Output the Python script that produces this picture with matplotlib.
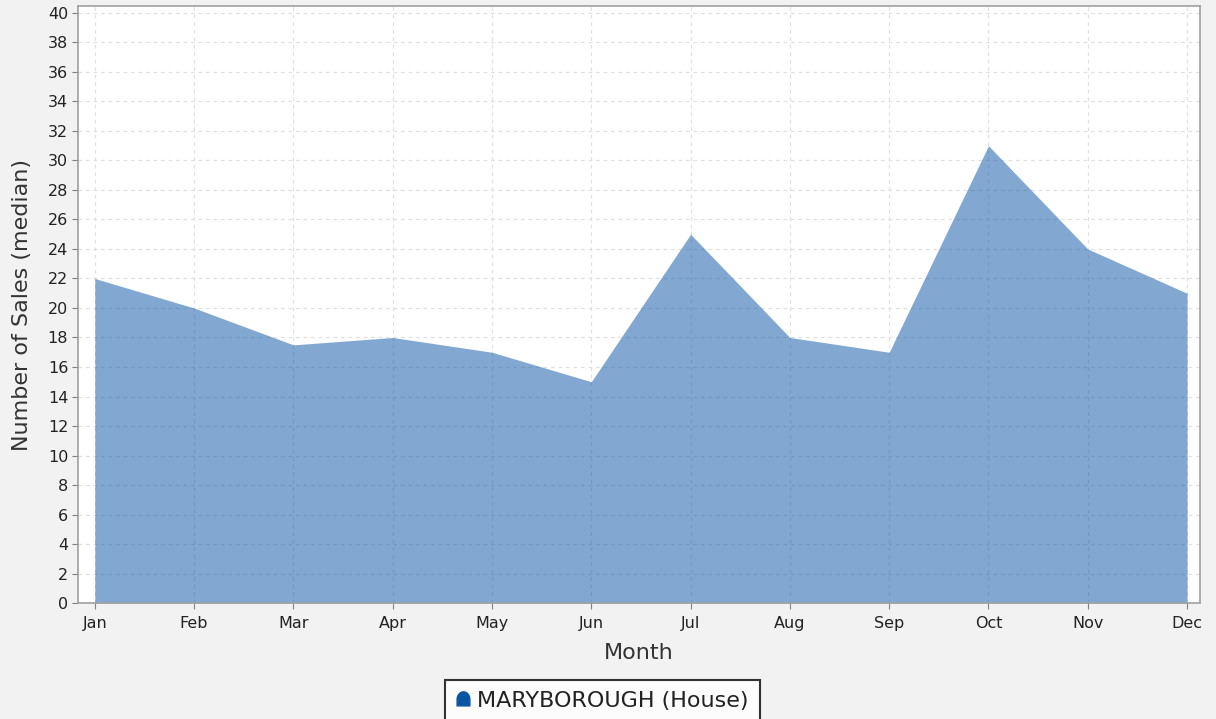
import numpy as np
import matplotlib.pyplot as plt
from matplotlib.path import Path
from matplotlib.lines import Line2D

months = ['Jan', 'Feb', 'Mar', 'Apr', 'May', 'Jun', 'Jul', 'Aug', 'Sep', 'Oct', 'Nov', 'Dec']
sales = [22, 20, 17.5, 18, 17, 15, 25, 18, 17, 31, 24, 21]
series_name = 'MARYBOROUGH (House)'

fig = plt.figure(figsize=(12.16, 7.19), dpi=100, facecolor='#f2f2f2')
ax = fig.add_axes([0.0641, 0.1613, 0.9227, 0.8297])
ax.set_facecolor('white')

x = np.arange(len(months))
ax.fill_between(x, 0, sales, color='#0653a6', alpha=0.5, linewidth=0, zorder=3)

ax.set_xlim(-0.17, 11.13)
ax.set_ylim(0, 40.44)
ax.set_xticks(x)
ax.set_xticklabels(months)
ax.set_yticks(np.arange(0, 41, 2))

# Dashed grid, seen faintly through the area
ax.grid(True, color='#e0e0e0', linestyle=(0, (3, 3)), linewidth=0.9, zorder=1)
ax.set_axisbelow(True)

for s in ax.spines.values():
    s.set_color('#a0a0a0')
    s.set_linewidth(1.2)
    s.set_zorder(4)
ax.tick_params(axis='both', direction='out', length=4, color='#808080',
               labelsize=11.5, labelcolor='#222222', pad=3)
ax.tick_params(axis='x', pad=5)

ax.set_xlabel('Month', fontsize=16, color='#333333', labelpad=9)
ax.set_ylabel('Number of Sales (median)', fontsize=16, color='#333333', labelpad=11)

# Bell shaped legend marker
t = np.linspace(0, np.pi, 20)
verts = [(1, -1), (1, 0)] + [(np.cos(a), np.sin(a) * 1.2) for a in t] + [(-1, -1), (1, -1)]
bell = Path(verts, closed=True)
handle = Line2D([], [], marker=bell, linestyle='none', markersize=11,
                markerfacecolor='#0b56a4', markeredgecolor='#0b56a4')
leg = fig.legend([handle], [series_name], loc='upper center',
                 bbox_to_anchor=(0.4955, 0.0542), fontsize=16, frameon=True,
                 fancybox=False, handlelength=0.6, handletextpad=0.35,
                 borderpad=0.5, borderaxespad=0)
leg.get_frame().set_edgecolor('black')
leg.get_frame().set_linewidth(1.5)
leg.get_frame().set_facecolor('white')
for txt in leg.get_texts():
    txt.set_color('#222222')

plt.savefig('out.png', dpi=100, facecolor=fig.get_facecolor())
